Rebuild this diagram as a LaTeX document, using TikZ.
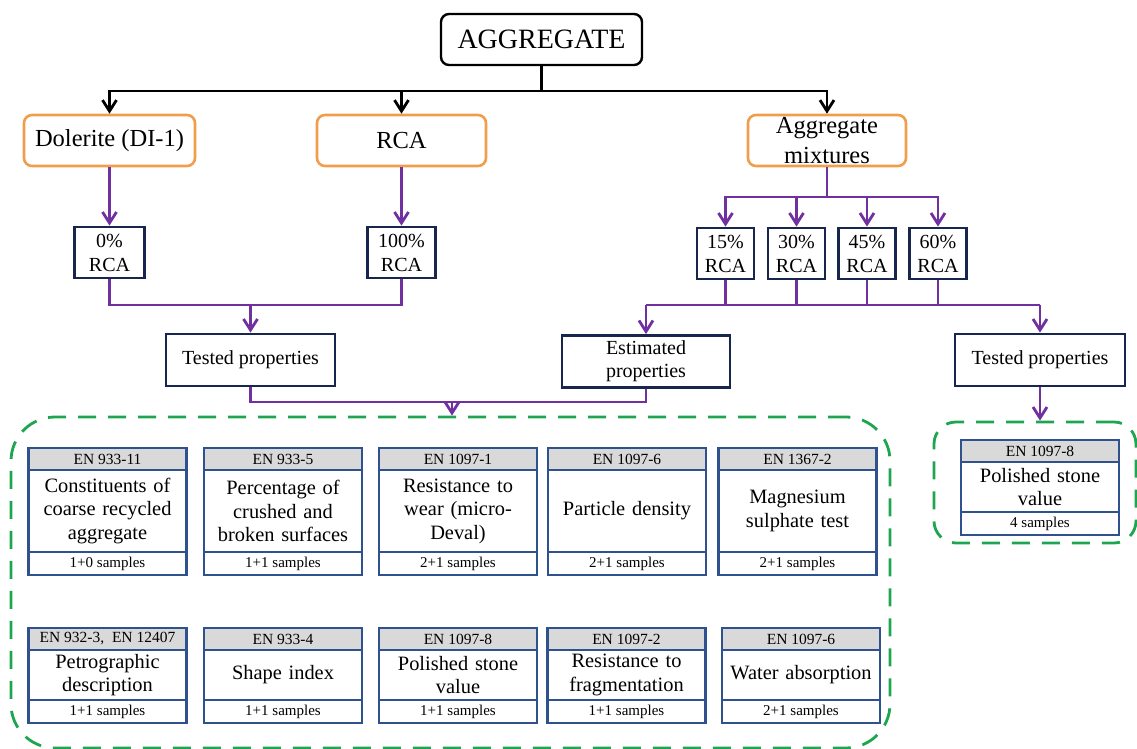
\documentclass[tikz,border=0pt]{standalone}
\usepackage{fontspec}
\setmainfont{Liberation Serif}
\usetikzlibrary{arrows.meta}
\definecolor{aggorange}{RGB}{240,158,76}
\definecolor{aggpurple}{RGB}{112,48,160}
\definecolor{aggnavy}{RGB}{24,38,78}
\definecolor{cardblue}{RGB}{47,82,143}
\definecolor{hdrgray}{RGB}{217,217,217}
\definecolor{grpgreen}{RGB}{30,165,80}

\begin{document}
\begin{tikzpicture}[x=0.5pt,y=-0.5pt,>={Straight Barb[length=5.5pt,width=7pt,line width=1.4pt]},
  aggbox/.style={draw=black,line width=1.2pt,rounded corners=4pt,minimum width=100.5pt,minimum height=25.5pt,font=\fontsize{14}{16}\selectfont},
  src/.style={draw=aggorange,line width=1.3pt,rounded corners=4pt,minimum height=25.5pt,inner ysep=0pt,align=center,font=\fontsize{12.25}{15}\selectfont},
  pct/.style={draw=aggnavy,line width=1.4pt,minimum width=28.5pt,minimum height=25.5pt,inner sep=0pt,align=center,font=\fontsize{10}{12}\selectfont},
  prop/.style={draw=aggnavy,line width=1.4pt,minimum width=84.5pt,minimum height=26pt,inner sep=0pt,align=center,font=\fontsize{10}{11.5}\selectfont},
  blk/.style={black,line width=1.2pt},
  pur/.style={aggpurple,line width=1.2pt},
  grp/.style={draw=grpgreen,line width=1.4pt,dash pattern=on 9pt off 6pt},
  hdr/.style={draw=cardblue,fill=hdrgray,line width=1.2pt,minimum width=79pt,minimum height=11pt,inner sep=0pt,font=\fontsize{7.75}{9}\selectfont},
  bodA/.style={draw=cardblue,line width=1.2pt,text width=77pt,minimum height=41pt,inner xsep=1pt,inner ysep=0pt,align=center,font=\fontsize{10.2}{11.75}\selectfont},
  bodB/.style={bodA,minimum height=25pt},
  ftr/.style={draw=cardblue,line width=1.2pt,minimum width=79pt,minimum height=11.5pt,inner sep=0pt,font=\fontsize{7.5}{9}\selectfont}]
\useasboundingbox (0,0) rectangle (1137,749);

\node[aggbox] (agg) at (541.5,39.5) {AGGREGATE};
\node[src,minimum width=85.5pt] (dol) at (109.5,140.5) {Dolerite (DI-1)};
\node[src,minimum width=84.5pt] (rca) at (401.5,140.5) {RCA};
\node[src,minimum width=79pt] (mix) at (827,140.5) {Aggregate\\mixtures};

\node[pct,minimum width=35pt] (p0) at (109.5,252.5) {0\%\\RCA};
\node[pct,minimum width=34pt] (p100) at (401.5,252.5) {100\%\\RCA};
\node[pct] (p15) at (725.5,253.5) {15\%\\RCA};
\node[pct] (p30) at (796.5,253.5) {30\%\\RCA};
\node[pct] (p45) at (867,253.5) {45\%\\RCA};
\node[pct] (p60) at (938,253.5) {60\%\\RCA};

\node[prop] (testL) at (250.5,360) {Tested properties};
\node[prop,minimum width=84pt] (est) at (646,361.5) {Estimated\\properties};
\node[prop,minimum width=85pt] (testR) at (1040,360) {Tested properties};

\node[grp,rounded corners=22pt,minimum width=439.5pt,minimum height=165.5pt] (grpL) at (450.5,582.5) {};
\node[grp,rounded corners=11pt,minimum width=101pt,minimum height=60.5pt] (grpR) at (1035,482.5) {};

\node[hdr] (h1) at (107.5,459) {EN 933-11};
\node[bodA] (b1) at (107.5,511) {Constituents of\\coarse recycled\\aggregate};
\node[ftr] (f1) at (107.5,563.5) {1+0 samples};
\node[hdr] (h2) at (283,459) {EN 933-5};
\node[bodA] (b2) at (283,511) {Percentage of\\crushed and\\broken surfaces};
\node[ftr] (f2) at (283,563.5) {1+1 samples};
\node[hdr] (h3) at (458,459) {EN 1097-1};
\node[bodA] (b3) at (458,511) {Resistance to\\wear (micro-\\Deval)};
\node[ftr] (f3) at (458,563.5) {2+1 samples};
\node[hdr] (h4) at (627,459) {EN 1097-6};
\node[bodA] (b4) at (627,511) {Particle density};
\node[ftr] (f4) at (627,563.5) {2+1 samples};
\node[hdr] (h5) at (797.5,459) {EN 1367-2};
\node[bodA] (b5) at (797.5,511) {Magnesium\\sulphate test};
\node[ftr] (f5) at (797.5,563.5) {2+1 samples};

\node[hdr] (h6) at (107.5,639) {EN 932-3,\ \ EN 12407};
\node[bodB] (b6) at (107.5,675) {Petrographic\\description};
\node[ftr] (f6) at (107.5,711.5) {1+1 samples};
\node[hdr] (h7) at (283,639) {EN 933-4};
\node[bodB] (b7) at (283,675) {Shape index};
\node[ftr] (f7) at (283,711.5) {1+1 samples};
\node[hdr] (h8) at (458,639) {EN 1097-8};
\node[bodB] (b8) at (458,675) {Polished stone\\value};
\node[ftr] (f8) at (458,711.5) {1+1 samples};
\node[hdr] (h9) at (626.5,639) {EN 1097-2};
\node[bodB] (b9) at (626.5,675) {Resistance to\\fragmentation};
\node[ftr] (f9) at (626.5,711.5) {1+1 samples};
\node[hdr] (h10) at (801,639) {EN 1097-6};
\node[bodB] (b10) at (801,675) {Water absorption};
\node[ftr] (f10) at (801,711.5) {2+1 samples};

\node[hdr] (hR) at (1040,451) {EN 1097-8};
\node[bodB] (bR) at (1040,487) {Polished stone\\value};
\node[ftr] (fR) at (1040,523.5) {4 samples};

\draw[blk,->] (agg.south) -- ++(0,25) -| (dol.north);
\draw[blk,->] (agg.south) -- ++(0,25) -| (rca.north);
\draw[blk,->] (agg.south) -- ++(0,25) -| (mix.north);

\draw[pur,->] (dol.south) -- (p0.north);
\draw[pur,->] (rca.south) -- (p100.north);
\draw[pur,->] (mix.south) -- ++(0,30) -| (p15.north);
\draw[pur,->] (mix.south) -- ++(0,30) -| (p30.north);
\draw[pur,->] (mix.south) -- ++(0,30) -| (p45.north);
\draw[pur,->] (mix.south) -- ++(0,30) -| (p60.north);

\coordinate (jL) at (250.5,305);
\draw[pur] (p0.south) |- (jL) -| (p100.south);
\draw[pur,->] (jL) -- (testL.north);

\coordinate (jM) at (646,305);
\coordinate (jR) at (1040,305);
\draw[pur] (jM) -- (jR);
\draw[pur] (p15.south) -- (p15.south |- jM);
\draw[pur] (p30.south) -- (p30.south |- jM);
\draw[pur] (p45.south) -- (p45.south |- jM);
\draw[pur] (p60.south) -- (p60.south |- jM);
\draw[pur,->] (jM) -- (est.north);
\draw[pur,->] (jR) -- (testR.north);

\coordinate (jB) at (452,402);
\draw[pur] (testL.south) |- (jB) -| (est.south);
\draw[pur,->] (jB) -- (jB |- grpL.north);
\draw[pur,->] (testR.south) -- (testR.south |- grpR.north);
\end{tikzpicture}
\end{document}
